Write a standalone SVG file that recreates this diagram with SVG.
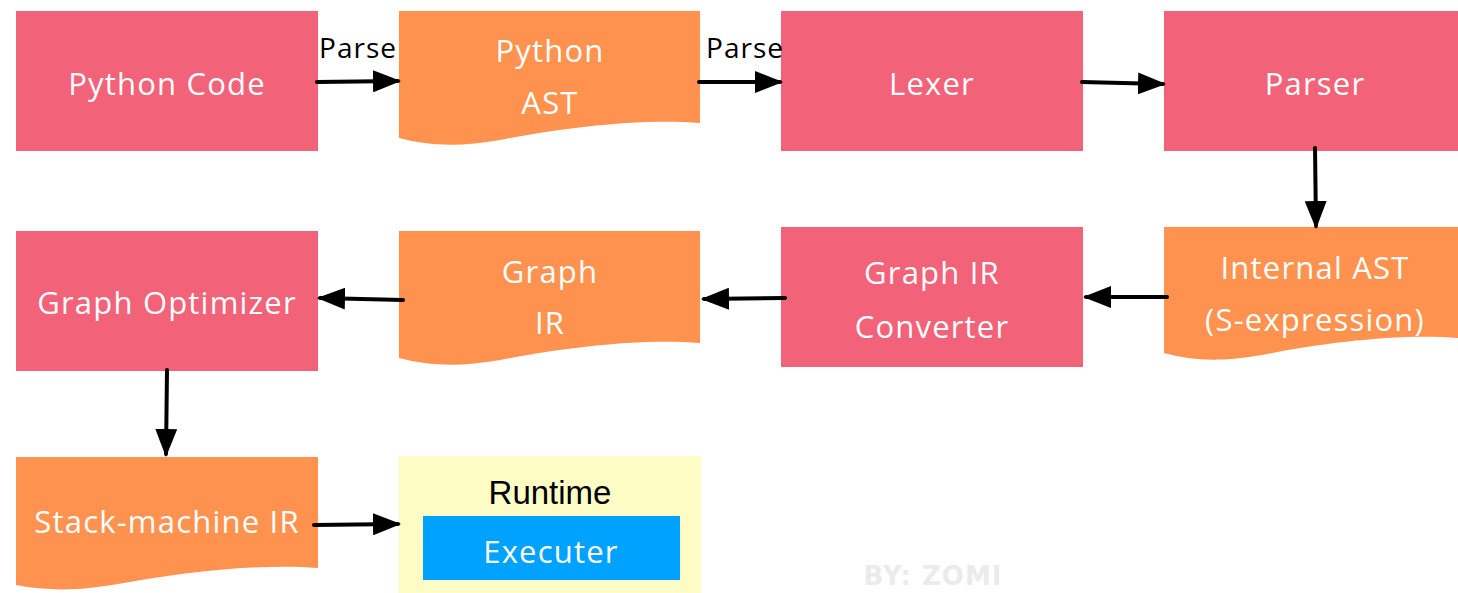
<svg xmlns="http://www.w3.org/2000/svg" width="1458" height="593" viewBox="0 0 1458 593">
<defs>
<marker id="ah" markerWidth="28" markerHeight="22" refX="25" refY="11" orient="auto" markerUnits="userSpaceOnUse" viewBox="0 0 28 22">
<path d="M0,0 L28,11 L0,22 Z" fill="#000"/>
</marker>
<style>
.proc{fill:#F26279;}
.doc{fill:#FF924E;}
.t{font-family:"Open Sans","DejaVu Sans",sans-serif;font-size:31px;fill:#fff;text-anchor:middle;letter-spacing:1.2px;}
.lbl{font-family:"Open Sans","DejaVu Sans",sans-serif;font-size:28px;fill:#000;text-anchor:middle;letter-spacing:1px;}
.conn line{stroke:#000;stroke-width:4;stroke-linecap:round;marker-end:url(#ah);}
</style>
</defs>
<rect width="1458" height="593" fill="#fff"/>
<g id="python-code"><rect class="proc" x="16" y="11" width="302" height="140"/><text class="t" x="167" y="95">Python Code</text></g>
<g id="python-ast"><path class="doc" d="M399,11 H700 V123 C640,118 560,128 500,140 C460,147 430,146 399,138 Z"/><text class="t" x="550" y="62">Python</text><text class="t" x="550" y="114">AST</text></g>
<g id="lexer"><rect class="proc" x="781" y="11" width="302" height="140"/><text class="t" x="932" y="95">Lexer</text></g>
<g id="parser"><rect class="proc" x="1164" y="11" width="294" height="140"/><text class="t" x="1315" y="95">Parser</text></g>
<g id="internal-ast"><path class="doc" d="M1164,227 H1458 V338 C1400,333 1320,343 1262,355 C1222,362 1194,361 1164,353 Z"/><text class="t" x="1315" y="279">Internal AST</text><text class="t" x="1315" y="331">(S-expression)</text></g>
<g id="graph-ir-converter"><rect class="proc" x="781" y="227" width="302" height="140"/><text class="t" x="932" y="284">Graph IR</text><text class="t" x="932" y="338">Converter</text></g>
<g id="graph-ir"><path class="doc" d="M399,231 H700 V343 C640,338 560,348 500,360 C460,367 430,366 399,358 Z"/><text class="t" x="550" y="283">Graph</text><text class="t" x="550" y="334">IR</text></g>
<g id="graph-optimizer"><rect class="proc" x="16" y="231" width="302" height="140"/><text class="t" x="167" y="314">Graph Optimizer</text></g>
<g id="stack-machine-ir"><path class="doc" d="M16,457 H318 V568 C258,563 178,573 118,584 C78,591 48,591 16,585 Z"/><text class="t" x="167" y="533">Stack-machine IR</text></g>
<g id="runtime"><rect x="399" y="456" width="302" height="137" fill="#FEFCC5"/><text x="550" y="504" font-family="'Liberation Sans',Arial,sans-serif" font-size="33" text-anchor="middle" fill="#000">Runtime</text></g>
<g id="executer"><rect x="423" y="516" width="257" height="64" fill="#00A2FF"/><text class="t" x="551" y="563">Executer</text></g>
<g class="conn" id="connectors">
<line x1="317" y1="82" x2="398" y2="81"/>
<line x1="699" y1="82" x2="780" y2="82"/>
<line x1="1082" y1="82" x2="1163" y2="84"/>
<line x1="1315" y1="148" x2="1316" y2="226"/>
<line x1="1167" y1="297" x2="1086" y2="297"/>
<line x1="785" y1="298" x2="704" y2="299"/>
<line x1="403" y1="300" x2="320" y2="298"/>
<line x1="167" y1="370" x2="166" y2="454"/>
<line x1="314" y1="525" x2="398" y2="524"/>
</g>
<text class="lbl" x="358" y="58">Parse</text>
<text class="lbl" x="745" y="58">Parse</text>
<text x="933" y="585" font-family="'DejaVu Sans',sans-serif" font-weight="bold" font-size="26" letter-spacing="1" text-anchor="middle" fill="#EBEBEB">BY: ZOMI</text>
</svg>
